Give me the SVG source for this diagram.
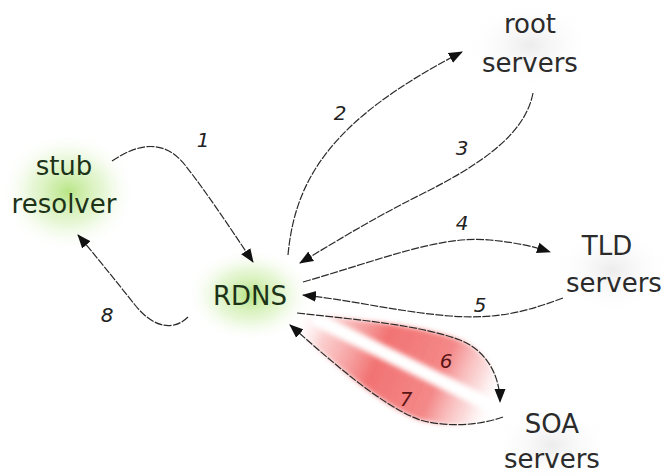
<svg xmlns="http://www.w3.org/2000/svg" width="666" height="476" viewBox="0 0 666 476">
<defs>
<style>
.lbl{font-family:"DejaVu Sans",Verdana,sans-serif;font-size:26px;fill:#2b2b2b;text-anchor:middle}
.gl{fill:#1c3318}
.num{font-family:"DejaVu Sans",Verdana,sans-serif;font-size:20px;font-style:italic;fill:#222;text-anchor:middle}
.rn{fill:#5a1414}
.c{fill:none;stroke:#2a2a2a;stroke-width:1.2;stroke-dasharray:8 1.4;marker-end:url(#ah)}
</style>
<marker id="ah" markerUnits="userSpaceOnUse" markerWidth="14" markerHeight="12" viewBox="0 0 14 12" refX="13" refY="6" orient="auto">
<path d="M0,0.5 L14,6 L0,11.5 Z" fill="#111"/>
</marker>
<radialGradient id="green">
<stop offset="0" stop-color="#a6de66" stop-opacity="0.8"/>
<stop offset="0.55" stop-color="#cdeeaa" stop-opacity="0.45"/>
<stop offset="1" stop-color="#ffffff" stop-opacity="0"/>
</radialGradient>
<radialGradient id="grey">
<stop offset="0" stop-color="#e4e4e4" stop-opacity="0.7"/>
<stop offset="1" stop-color="#ffffff" stop-opacity="0"/>
</radialGradient>
<linearGradient id="red" gradientUnits="userSpaceOnUse" x1="295" y1="318" x2="505" y2="410">
<stop offset="0" stop-color="#ffffff" stop-opacity="0"/>
<stop offset="0.15" stop-color="#f69090" stop-opacity="0.45"/>
<stop offset="0.4" stop-color="#ee5050" stop-opacity="0.8"/>
<stop offset="0.68" stop-color="#f06060" stop-opacity="0.75"/>
<stop offset="0.85" stop-color="#f7a8a8" stop-opacity="0.4"/>
<stop offset="0.97" stop-color="#ffffff" stop-opacity="0"/>
</linearGradient>
<filter id="blur" x="-20%" y="-20%" width="140%" height="140%"><feGaussianBlur stdDeviation="2.5"/></filter>
<filter id="blur2" x="-20%" y="-50%" width="140%" height="200%"><feGaussianBlur stdDeviation="2.5"/></filter>
</defs>
<rect width="666" height="476" fill="#ffffff"/>

<g id="red-lobes">
<path d="M297,313 C360,320 420,325 460,340 C490,352 500,380 500,402 L503,417 C480,425 450,428 420,420 C380,405 330,360 290,325 Z" fill="url(#red)" filter="url(#blur)"/>
<line x1="318" y1="320" x2="492" y2="406" stroke="#ffffff" stroke-width="14" stroke-linecap="round" filter="url(#blur2)"/>
</g>

<g id="stub-resolver">
<ellipse cx="68" cy="192" rx="68" ry="60" fill="url(#green)"/>
<text class="lbl gl" x="64" y="175">stub</text>
<text class="lbl gl" x="64" y="213">resolver</text>
</g>
<g id="rdns">
<ellipse cx="250" cy="295" rx="64" ry="47" fill="url(#green)"/>
<text class="lbl gl" x="250" y="305">RDNS</text>
</g>
<g id="root-servers">
<ellipse cx="530" cy="45" rx="65" ry="45" fill="url(#grey)"/>
<text class="lbl" x="530" y="33">root</text>
<text class="lbl" x="530" y="72">servers</text>
</g>
<g id="tld-servers">
<ellipse cx="612" cy="270" rx="60" ry="45" fill="url(#grey)"/>
<text class="lbl" x="607" y="255">TLD</text>
<text class="lbl" x="614" y="292">servers</text>
</g>
<g id="soa-servers">
<ellipse cx="552" cy="445" rx="60" ry="40" fill="url(#grey)"/>
<text class="lbl" x="552" y="433">SOA</text>
<text class="lbl" x="552" y="468">servers</text>
</g>

<g id="connectors">
<path class="c" d="M112,161 C140,142 165,140 185,165 S235,235 253,262"/>
<path class="c" d="M288,255 C295,180 330,120 462,52"/>
<path class="c" d="M533,93 C525,135 480,165 420,195 C370,220 330,245 300,263"/>
<path class="c" d="M303,282 C380,260 440,235 490,240 C520,243 535,247 550,252"/>
<path class="c" d="M563,298 C530,310 500,320 450,316 C400,312 350,300 303,295"/>
<path class="c" d="M297,313 C360,320 420,325 460,340 C490,352 500,380 500,402"/>
<path class="c" d="M503,417 C480,425 450,428 420,420 C380,405 330,360 290,325"/>
<path class="c" d="M188,317 C175,330 155,330 135,305 C115,280 95,255 78,235"/>
</g>

<g id="step-labels">
<text class="num" x="203" y="147">1</text>
<text class="num" x="340" y="120">2</text>
<text class="num" x="462" y="155">3</text>
<text class="num" x="462" y="230">4</text>
<text class="num" x="480" y="312">5</text>
<text class="num rn" x="446" y="368">6</text>
<text class="num rn" x="406" y="406">7</text>
<text class="num" x="107" y="322">8</text>
</g>
</svg>
